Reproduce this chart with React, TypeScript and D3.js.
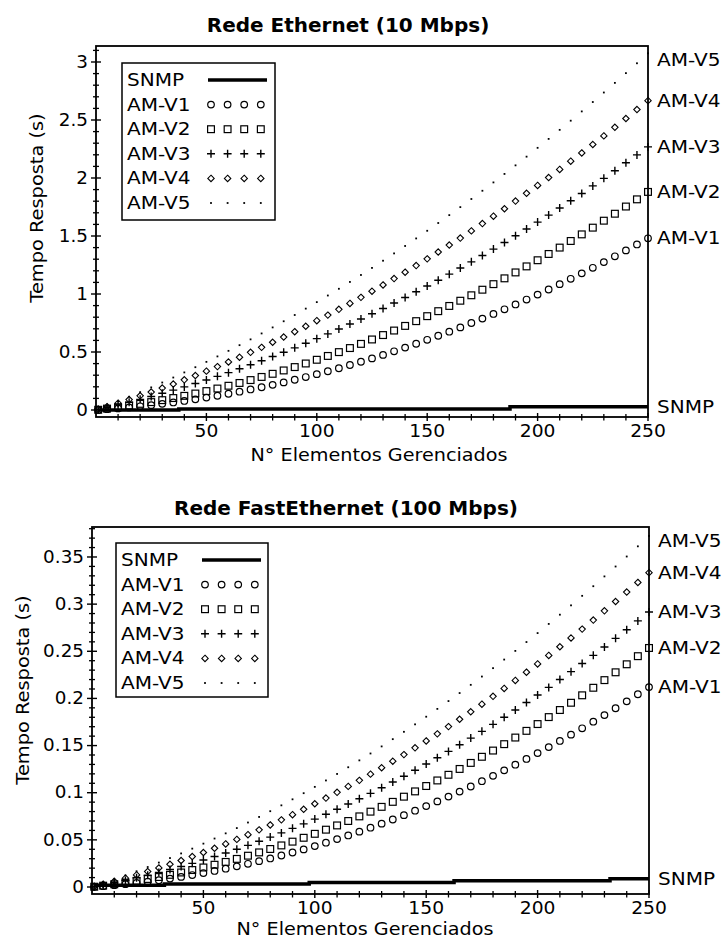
import React from 'react';
import * as d3 from 'd3';

// ---------- data ----------
const xValues = [1, 5, 10, 15, 20, 25, 30, 35, 40, 45, 50, 55, 60, 65, 70, 75, 80, 85, 90, 95, 100, 105, 110, 115, 120, 125, 130, 135, 140, 145, 150, 155, 160, 165, 170, 175, 180, 185, 190, 195, 200, 205, 210, 215, 220, 225, 230, 235, 240, 245, 250];

const seriesNames = ['SNMP', 'AM-V1', 'AM-V2', 'AM-V3', 'AM-V4', 'AM-V5'];

// Rede Ethernet (10 Mbps)
const ethSNMP = [0, 0, 0, 0, 0, 0, 0, 0, 0.008, 0.008, 0.008, 0.008, 0.008, 0.008, 0.008, 0.008, 0.008, 0.008, 0.008, 0.008, 0.008, 0.008, 0.008, 0.008, 0.008, 0.008, 0.008, 0.008, 0.008, 0.008, 0.008, 0.008, 0.008, 0.008, 0.008, 0.008, 0.008, 0.008, 0.028, 0.028, 0.028, 0.028, 0.028, 0.028, 0.028, 0.028, 0.028, 0.028, 0.028, 0.028, 0.028];
const ethV1 = [0.001, 0.007, 0.014, 0.022, 0.032, 0.042, 0.053, 0.065, 0.078, 0.092, 0.107, 0.123, 0.140, 0.158, 0.177, 0.196, 0.217, 0.238, 0.261, 0.284, 0.309, 0.334, 0.360, 0.388, 0.416, 0.445, 0.475, 0.506, 0.538, 0.571, 0.605, 0.640, 0.675, 0.712, 0.750, 0.788, 0.828, 0.868, 0.910, 0.952, 0.995, 1.039, 1.085, 1.131, 1.178, 1.226, 1.275, 1.325, 1.376, 1.427, 1.480];
const ethV2 = [0.002, 0.012, 0.024, 0.038, 0.053, 0.068, 0.085, 0.103, 0.122, 0.142, 0.163, 0.185, 0.209, 0.233, 0.258, 0.285, 0.312, 0.341, 0.370, 0.401, 0.433, 0.466, 0.499, 0.534, 0.570, 0.608, 0.646, 0.685, 0.725, 0.766, 0.809, 0.852, 0.897, 0.942, 0.989, 1.037, 1.085, 1.135, 1.186, 1.238, 1.291, 1.345, 1.400, 1.457, 1.514, 1.572, 1.632, 1.692, 1.754, 1.816, 1.880];
const ethV3 = [0.004, 0.021, 0.044, 0.067, 0.092, 0.117, 0.144, 0.171, 0.199, 0.228, 0.259, 0.290, 0.322, 0.355, 0.390, 0.425, 0.461, 0.498, 0.536, 0.575, 0.615, 0.656, 0.698, 0.741, 0.785, 0.830, 0.875, 0.922, 0.970, 1.019, 1.069, 1.119, 1.171, 1.224, 1.277, 1.332, 1.387, 1.444, 1.502, 1.560, 1.620, 1.680, 1.742, 1.804, 1.867, 1.932, 1.997, 2.063, 2.131, 2.199, 2.268];
const ethV4 = [0.006, 0.029, 0.059, 0.090, 0.122, 0.155, 0.189, 0.224, 0.260, 0.297, 0.335, 0.374, 0.414, 0.455, 0.497, 0.540, 0.584, 0.629, 0.675, 0.722, 0.770, 0.818, 0.868, 0.919, 0.971, 1.024, 1.078, 1.133, 1.188, 1.245, 1.303, 1.362, 1.422, 1.482, 1.544, 1.607, 1.671, 1.735, 1.801, 1.868, 1.936, 2.004, 2.074, 2.145, 2.216, 2.289, 2.363, 2.437, 2.513, 2.590, 2.667];
const ethV5 = [0.007, 0.037, 0.075, 0.114, 0.154, 0.195, 0.237, 0.280, 0.324, 0.369, 0.415, 0.462, 0.510, 0.559, 0.609, 0.660, 0.712, 0.765, 0.819, 0.874, 0.930, 0.987, 1.045, 1.104, 1.164, 1.225, 1.287, 1.350, 1.414, 1.479, 1.545, 1.612, 1.680, 1.749, 1.819, 1.890, 1.962, 2.035, 2.109, 2.184, 2.260, 2.337, 2.415, 2.494, 2.574, 2.655, 2.737, 2.820, 2.904, 2.989, 3.075];

// Rede FastEthernet (100 Mbps)
const fastSNMP = [0.0018, 0.0018, 0.0018, 0.0018, 0.0018, 0.0018, 0.0018, 0.0032, 0.0032, 0.0032, 0.0032, 0.0032, 0.0032, 0.0032, 0.0032, 0.0032, 0.0032, 0.0032, 0.0032, 0.0032, 0.0047, 0.0047, 0.0047, 0.0047, 0.0047, 0.0047, 0.0047, 0.0047, 0.0047, 0.0047, 0.0047, 0.0047, 0.0047, 0.0067, 0.0067, 0.0067, 0.0067, 0.0067, 0.0067, 0.0067, 0.0067, 0.0067, 0.0067, 0.0067, 0.0067, 0.0067, 0.0067, 0.0088, 0.0088, 0.0088, 0.0088];
const fastV1 = [0.0002, 0.0009, 0.0019, 0.0030, 0.0043, 0.0057, 0.0072, 0.0089, 0.0107, 0.0127, 0.0148, 0.0170, 0.0194, 0.0219, 0.0246, 0.0274, 0.0303, 0.0334, 0.0366, 0.0399, 0.0434, 0.0470, 0.0508, 0.0547, 0.0587, 0.0629, 0.0672, 0.0716, 0.0762, 0.0809, 0.0858, 0.0908, 0.0959, 0.1012, 0.1066, 0.1122, 0.1179, 0.1237, 0.1297, 0.1358, 0.1420, 0.1484, 0.1549, 0.1616, 0.1683, 0.1753, 0.1823, 0.1896, 0.1969, 0.2044, 0.2120];
const fastV2 = [0.0003, 0.0014, 0.0029, 0.0046, 0.0065, 0.0085, 0.0106, 0.0129, 0.0154, 0.0180, 0.0207, 0.0236, 0.0266, 0.0298, 0.0332, 0.0367, 0.0403, 0.0441, 0.0481, 0.0522, 0.0564, 0.0608, 0.0653, 0.0700, 0.0749, 0.0799, 0.0850, 0.0903, 0.0958, 0.1014, 0.1071, 0.1130, 0.1190, 0.1252, 0.1316, 0.1381, 0.1447, 0.1515, 0.1585, 0.1656, 0.1728, 0.1802, 0.1877, 0.1954, 0.2033, 0.2113, 0.2194, 0.2277, 0.2362, 0.2448, 0.2535];
const fastV3 = [0.0004, 0.0022, 0.0045, 0.0070, 0.0097, 0.0124, 0.0154, 0.0185, 0.0217, 0.0251, 0.0286, 0.0323, 0.0361, 0.0401, 0.0442, 0.0485, 0.0529, 0.0574, 0.0622, 0.0670, 0.0720, 0.0772, 0.0825, 0.0880, 0.0936, 0.0993, 0.1053, 0.1113, 0.1175, 0.1239, 0.1304, 0.1370, 0.1438, 0.1508, 0.1579, 0.1651, 0.1725, 0.1800, 0.1877, 0.1956, 0.2036, 0.2117, 0.2200, 0.2284, 0.2370, 0.2457, 0.2546, 0.2637, 0.2728, 0.2822, 0.2916];
const fastV4 = [0.0006, 0.0030, 0.0061, 0.0094, 0.0128, 0.0164, 0.0202, 0.0241, 0.0281, 0.0323, 0.0366, 0.0411, 0.0457, 0.0505, 0.0555, 0.0606, 0.0658, 0.0712, 0.0767, 0.0824, 0.0883, 0.0943, 0.1004, 0.1067, 0.1131, 0.1197, 0.1265, 0.1334, 0.1404, 0.1476, 0.1549, 0.1624, 0.1701, 0.1779, 0.1858, 0.1939, 0.2022, 0.2106, 0.2191, 0.2278, 0.2366, 0.2456, 0.2548, 0.2641, 0.2735, 0.2831, 0.2929, 0.3028, 0.3128, 0.3230, 0.3334];
const fastV5 = [0.0008, 0.0040, 0.0081, 0.0123, 0.0167, 0.0212, 0.0259, 0.0307, 0.0356, 0.0407, 0.0460, 0.0514, 0.0569, 0.0625, 0.0684, 0.0743, 0.0804, 0.0866, 0.0930, 0.0995, 0.1062, 0.1130, 0.1199, 0.1270, 0.1343, 0.1416, 0.1491, 0.1568, 0.1646, 0.1725, 0.1806, 0.1889, 0.1972, 0.2057, 0.2144, 0.2232, 0.2321, 0.2412, 0.2504, 0.2598, 0.2693, 0.2790, 0.2888, 0.2987, 0.3088, 0.3190, 0.3294, 0.3399, 0.3505, 0.3613, 0.3723];

// ticks
const xTickValues = [50, 100, 150, 200, 250];
const xTickLabels = ['50', '100', '150', '200', '250'];
const ethYTickValues = [0, 0.5, 1, 1.5, 2, 2.5, 3];
const ethYTickLabels = ['0', '0.5', '1', '1.5', '2', '2.5', '3'];
const fastYTickValues = [0, 0.05, 0.1, 0.15, 0.2, 0.25, 0.3, 0.35];
const fastYTickLabels = ['0', '0.05', '0.1', '0.15', '0.2', '0.25', '0.3', '0.35'];

// ---------- drawing ----------
const FONT = "'DejaVu Sans', Verdana, sans-serif";
const INK = '#000';
const markerKinds = ['circle', 'square', 'plus', 'diamond', 'dot'];

function Marker({ kind, x, y }: { kind: string; x: number; y: number }) {
  switch (kind) {
    case 'circle':
      return <circle cx={x} cy={y} r={3.3} fill="none" stroke={INK} strokeWidth={1.2} />;
    case 'square':
      return <rect x={x - 3.4} y={y - 3.4} width={6.8} height={6.8} fill="none" stroke={INK} strokeWidth={1.2} />;
    case 'plus':
      return <path d={`M${x - 4},${y}H${x + 4}M${x},${y - 4}V${y + 4}`} stroke={INK} strokeWidth={1.4} fill="none" />;
    case 'diamond': {
      const s = 3.2;
      return (
        <path
          d={`M${x},${y - s}L${x + s},${y}L${x},${y + s}L${x - s},${y}Z`}
          fill="none"
          stroke={INK}
          strokeWidth={1.1}
        />
      );
    }
    default:
      return <rect x={x - 0.9} y={y - 0.9} width={1.8} height={1.8} fill={INK} />;
  }
}

function T(props: {
  x: number; y: number; sx?: number; anchor?: string; size?: number; weight?: string;
  rotate?: number; baseline?: string; children: React.ReactNode;
}) {
  const { x, y, sx = 1, anchor = 'start', size = 17, weight = 'normal', rotate = 0, baseline, children } = props;
  const tr = `translate(${x},${y})${rotate ? ` rotate(${rotate})` : ''} scale(${sx},1)`;
  return (
    <text transform={tr} textAnchor={anchor as any} fontSize={size} fontWeight={weight} fontFamily={FONT}
      dominantBaseline={baseline as any} fill={INK}>
      {children}
    </text>
  );
}

type ChartProps = {
  title: string; titleX: number; titleY: number;
  left: number; right: number; top: number; bottom: number;
  yDomain: [number, number];
  yTicks: number[]; yTickLabels: string[]; yMinorStep: number; yMinorCount: number;
  snmp: number[]; series: number[][];
  legendX: number; legendY: number; legendW: number; legendH: number;
  yLabelX: number; yLabelY: number; xLabelX: number; xLabelY: number;
};

function Chart(p: ChartProps) {
  const x = d3.scaleLinear().domain([0, 250]).range([p.left, p.right]);
  const y = d3.scaleLinear().domain(p.yDomain).range([p.bottom, p.top]);
  const line = d3.line<number>().x((_, i) => x(xValues[i])).y((d) => y(d)).curve(d3.curveStep);

  const yMinor = d3.range(0, p.yMinorCount).filter((i) => i % 5 !== 0).map((i) => i * p.yMinorStep);
  const xMinor = d3.range(1, 25).filter((i) => i % 5 !== 0).map((i) => i * 10);

  const lastIdx = xValues.length - 1;
  const rightLabels = [
    { name: seriesNames[0], v: p.snmp[lastIdx] },
    ...p.series.map((s, i) => ({ name: seriesNames[i + 1], v: s[lastIdx] })),
  ];

  const rowY = (i: number) => p.legendY + 17 + i * 24.6;
  const mx0 = p.legendX + 89;

  return (
    <g>
      <T x={p.titleX} y={p.titleY} anchor="middle" size={20} weight="bold">{p.title}</T>

      {/* frame */}
      <rect x={p.left} y={p.top} width={p.right - p.left} height={p.bottom - p.top} fill="none" stroke={INK} strokeWidth={1.8} />

      {/* y ticks */}
      {p.yTicks.map((v, i) => (
        <g key={'yt' + i}>
          <line x1={p.left - 5} x2={p.left + 5} y1={y(v)} y2={y(v)} stroke={INK} strokeWidth={1.4} />
          <T x={p.left - 8} y={y(v)} anchor="end" baseline="central" sx={1.08}>{p.yTickLabels[i]}</T>
        </g>
      ))}
      {yMinor.map((v, i) => (
        <line key={'ym' + i} x1={p.left - 3} x2={p.left + 3} y1={y(v)} y2={y(v)} stroke={INK} strokeWidth={1.3} />
      ))}

      {/* x ticks */}
      {xTickValues.map((v, i) => (
        <g key={'xt' + i}>
          <line x1={x(v)} x2={x(v)} y1={p.bottom - 4} y2={p.bottom + 4} stroke={INK} strokeWidth={1.4} />
          <T x={x(v)} y={p.bottom + 20} anchor="middle" sx={1.1}>{xTickLabels[i]}</T>
        </g>
      ))}
      {xMinor.map((v, i) => (
        <line key={'xm' + i} x1={x(v)} x2={x(v)} y1={p.bottom - 3} y2={p.bottom + 3.5} stroke={INK} strokeWidth={1.3} />
      ))}

      {/* axis titles */}
      <T x={p.xLabelX} y={p.xLabelY} anchor="middle" sx={1.13}>N° Elementos Gerenciados</T>
      <T x={p.yLabelX} y={p.yLabelY} anchor="middle" rotate={-90} sx={1.14}>Tempo Resposta (s)</T>

      {/* series */}
      {p.series.map((s, si) => (
        <g key={'s' + si}>
          {s.map((v, i) => (
            <Marker key={i} kind={markerKinds[si]} x={x(xValues[i])} y={y(v)} />
          ))}
        </g>
      ))}
      <path d={line(p.snmp) || ''} fill="none" stroke={INK} strokeWidth={3.5} />

      {/* right labels */}
      {rightLabels.map((r, i) => (
        <T key={'rl' + i} x={p.right + 9} y={Math.max(y(r.v), p.top + 14)} baseline="central" sx={1.18}>{r.name}</T>
      ))}

      {/* legend */}
      <rect x={p.legendX} y={p.legendY} width={p.legendW} height={p.legendH} fill="#fff" stroke={INK} strokeWidth={1.5} />
      {seriesNames.map((n, i) => (
        <g key={'lg' + i}>
          <T x={p.legendX + 5} y={rowY(i)} baseline="central" sx={1.18}>{n}</T>
          {i === 0 ? (
            <line x1={p.legendX + 86} x2={p.legendX + 145} y1={rowY(i)} y2={rowY(i)} stroke={INK} strokeWidth={3.5} />
          ) : (
            [0, 1, 2, 3].map((k) => <Marker key={k} kind={markerKinds[i - 1]} x={mx0 + k * 16.6} y={rowY(i)} />)
          )}
        </g>
      ))}
    </g>
  );
}

export default function App() {
  return (
    <svg width={727} height={940} viewBox="0 0 727 940"
      style={{ position: 'absolute', left: 0, top: 0, background: '#fff' }}>
      <rect x={0} y={0} width={727} height={940} fill="#fff" />
      <Chart
        title="Rede Ethernet (10 Mbps)" titleX={348} titleY={32}
        left={96} right={648} top={46} bottom={417}
        yDomain={[-0.0603, 3.1379]}
        yTicks={ethYTickValues} yTickLabels={ethYTickLabels} yMinorStep={0.1} yMinorCount={32}
        snmp={ethSNMP} series={[ethV1, ethV2, ethV3, ethV4, ethV5]}
        legendX={122} legendY={63} legendW={153} legendH={157}
        yLabelX={43} yLabelY={208} xLabelX={379} xLabelY={461}
      />
      <Chart
        title="Rede FastEthernet (100 Mbps)" titleX={346} titleY={515}
        left={92} right={649} top={527} bottom={894}
        yDomain={[-0.00742, 0.3818]}
        yTicks={fastYTickValues} yTickLabels={fastYTickLabels} yMinorStep={0.01} yMinorCount={39}
        snmp={fastSNMP} series={[fastV1, fastV2, fastV3, fastV4, fastV5]}
        legendX={116} legendY={543} legendW={152} legendH={154}
        yLabelX={29} yLabelY={690} xLabelX={365} xLabelY={935}
      />
    </svg>
  );
}
